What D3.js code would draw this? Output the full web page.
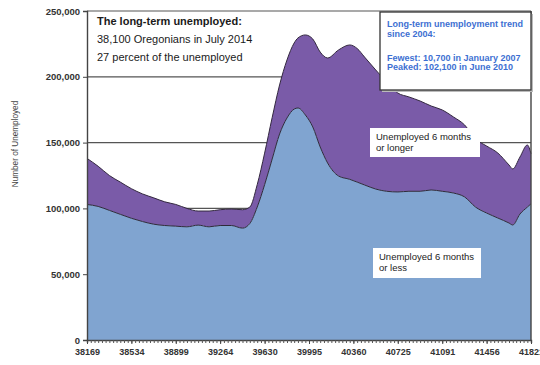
<!DOCTYPE html>
<html>
<head>
<meta charset="utf-8">
<script src="https://cdn.jsdelivr.net/npm/d3@7"></script>
<style>
  html, body { margin: 0; padding: 0; background: #fff; }
  svg { display: block; font-family: "Liberation Sans", Arial, Helvetica, sans-serif; }
</style>
</head>
<body>
<svg id="chart" width="540" height="365"></svg>
<script>
// Oregon unemployed by duration, July 2004 - July 2014
const months = [
  "2004-07","2004-10","2005-01","2005-04","2005-07","2005-10","2006-01","2006-04",
  "2006-07","2006-10","2007-01","2007-04","2007-07","2007-10","2008-01","2008-03",
  "2008-05","2008-07","2008-09","2008-11","2009-01","2009-03","2009-04","2009-06",
  "2009-08","2009-10","2009-12","2010-03","2010-06","2010-08","2010-10","2011-01",
  "2011-04","2011-07","2011-10","2012-01","2012-04","2012-07","2012-10","2013-01",
  "2013-04","2013-07","2013-10","2014-01","2014-02","2014-04","2014-06","2014-07"
];
// Unemployed 6 months or less
const shortTerm = [
  103000,101500, 98500, 95500, 92500, 90000, 88000, 87000,
   86500, 86000, 87300, 86000, 87000, 87000, 85000, 88500,
  101000,118000,137500,156500,168700,175500,176300,171000,
  161900,146700,134500,124600,122100,120000,117800,114700,
  113000,112500,113000,113000,114000,113000,111700,108700,
  101000, 96500, 92700, 88900, 87400, 95700,101000,103500
];
// Unemployed longer than 6 months
const longTerm = [
   35000, 30500, 26500, 24500, 22500, 21000, 20000, 18000,
   16500, 14000, 10700, 12000, 12000, 12500, 14000, 12500,
   17000, 24000, 31500, 37300, 44100, 50200, 53200, 60800,
   66800, 72100, 79800, 95800,102100,101500, 97200, 90500,
   83000, 75200, 71700, 68600, 63800, 61800, 57800, 54700,
   51700, 50900, 49400, 44100, 42600, 43300, 47200, 38100
];

const xTickValues = [38169, 38534, 38899, 39264, 39630, 39995, 40360, 40725, 41091, 41456, 41821];
const yTickValues = [0, 50000, 100000, 150000, 200000, 250000];

// spreadsheet-style day serial (days since 1899-12-30)
const serial = s => {
  const [y, m] = s.split("-").map(Number);
  return Math.round((Date.UTC(y, m - 1, 1) - Date.UTC(1899, 11, 30)) / 864e5);
};

const rows = months.map((m, i) => ({
  x: serial(m),
  short: shortTerm[i],
  total: shortTerm[i] + longTerm[i]
}));

const svg = d3.select("#chart");
const L = 87, R = 531, T = 11, B = 340;

const x = d3.scaleLinear().domain([38169, 41821]).range([L, R]);
const y = d3.scaleLinear().domain([0, 250000]).range([B, T]);

// horizontal grid lines
svg.append("g")
  .selectAll("line")
  .data(yTickValues.filter(v => v > 0))
  .join("line")
  .attr("x1", L).attr("x2", R)
  .attr("y1", d => y(d)).attr("y2", d => y(d))
  .attr("stroke", "#555").attr("stroke-width", 1.2);

const curve = d3.curveMonotoneX;

const areaLong = d3.area().curve(curve)
  .x(d => x(d.x)).y0(d => y(d.short)).y1(d => y(d.total));
const areaShort = d3.area().curve(curve)
  .x(d => x(d.x)).y0(y(0)).y1(d => y(d.short));

svg.append("path").datum(rows).attr("d", areaLong).attr("fill", "#7a5ba8");
svg.append("path").datum(rows).attr("d", areaShort).attr("fill", "#80a4d0");

const lineTop = d3.line().curve(curve).x(d => x(d.x)).y(d => y(d.total));
const lineMid = d3.line().curve(curve).x(d => x(d.x)).y(d => y(d.short));
svg.append("path").datum(rows).attr("d", lineTop)
  .attr("fill", "none").attr("stroke", "#33283f").attr("stroke-width", 1);
svg.append("path").datum(rows).attr("d", lineMid)
  .attr("fill", "none").attr("stroke", "#2e2a3a").attr("stroke-width", 1);

// right border
svg.append("line")
  .attr("x1", R).attr("x2", R).attr("y1", T).attr("y2", B)
  .attr("stroke", "#444").attr("stroke-width", 1.4);

// y axis
const yAxis = svg.append("g")
  .attr("transform", `translate(${L},0)`)
  .call(d3.axisLeft(y).tickValues(yTickValues).tickSize(4).tickPadding(3)
        .tickFormat(d3.format(",")));
yAxis.select(".domain").attr("stroke", "#444").attr("stroke-width", 1.4);
yAxis.selectAll(".tick line").attr("stroke", "#444");
yAxis.selectAll("text")
  .attr("fill", "#333").attr("font-size", 9.5).attr("font-weight", "bold")
  .attr("font-family", "Liberation Sans, Arial, sans-serif");

// x axis: monthly minor ticks, yearly labels
const monthTicks = d3.range(0, 121).map(k => {
  const yy = 2004 + Math.floor((6 + k) / 12), mm = ((6 + k) % 12) + 1;
  return serial(`${yy}-${String(mm).padStart(2, "0")}`);
});
const xMinor = svg.append("g")
  .attr("transform", `translate(0,${B})`)
  .call(d3.axisBottom(x).tickValues(monthTicks).tickSize(3).tickFormat(""));
xMinor.select(".domain").attr("stroke", "#444").attr("stroke-width", 1.4);
xMinor.selectAll(".tick line").attr("stroke", "#555");

const xAxis = svg.append("g")
  .attr("transform", `translate(0,${B})`)
  .call(d3.axisBottom(x).tickValues(xTickValues).tickSize(4).tickPadding(5)
        .tickFormat(d3.format("d")));
xAxis.select(".domain").remove();
xAxis.selectAll(".tick line").attr("stroke", "#444");
xAxis.selectAll("text")
  .attr("fill", "#333").attr("font-size", 9).attr("font-weight", "bold")
  .attr("font-family", "Liberation Sans, Arial, sans-serif");

// y axis title
svg.append("text")
  .attr("transform", "translate(18,144) rotate(-90)")
  .attr("text-anchor", "middle")
  .attr("font-size", 8.2).attr("fill", "#444")
  .text("Number of Unemployed");

// headline note
const note = svg.append("g").attr("fill", "#1a1a1a").attr("font-size", 11);
note.append("text").attr("x", 97).attr("y", 25).attr("font-weight", "bold")
  .text("The long-term unemployed:");
note.append("text").attr("x", 97).attr("y", 43).text("38,100 Oregonians in July 2014");
note.append("text").attr("x", 97).attr("y", 61).text("27 percent of the unemployed");

// trend box
svg.append("rect").attr("x", 382).attr("y", 14).attr("width", 151).attr("height", 78)
  .attr("fill", "#bbb");
svg.append("rect").attr("x", 380).attr("y", 12).attr("width", 151).attr("height", 78)
  .attr("fill", "#fff").attr("stroke", "#333").attr("stroke-width", 1.3);
const trend = svg.append("g").attr("fill", "#3d6fd2").attr("font-size", 9)
  .attr("font-weight", "bold");
trend.append("text").attr("x", 387).attr("y", 26.5).text("Long-term unemployment trend");
trend.append("text").attr("x", 387).attr("y", 36.5).text("since 2004:");
trend.append("text").attr("x", 387).attr("y", 60.5).text("Fewest: 10,700 in January 2007");
trend.append("text").attr("x", 387).attr("y", 70).text("Peaked: 102,100 in June 2010");

// series labels
const labels = [
  { x: 370, y: 128, w: 110, h: 29, lines: ["Unemployed 6 months", "or longer"] },
  { x: 373, y: 248, w: 108, h: 30, lines: ["Unemployed 6 months", "or less"] }
];
labels.forEach(l => {
  svg.append("rect").attr("x", l.x).attr("y", l.y).attr("width", l.w).attr("height", l.h)
    .attr("fill", "#fff");
  l.lines.forEach((t, i) => {
    svg.append("text").attr("x", l.x + 6).attr("y", l.y + 12 + i * 11)
      .attr("font-size", 9.5).attr("fill", "#222").text(t);
  });
});
</script>
</body>
</html>
